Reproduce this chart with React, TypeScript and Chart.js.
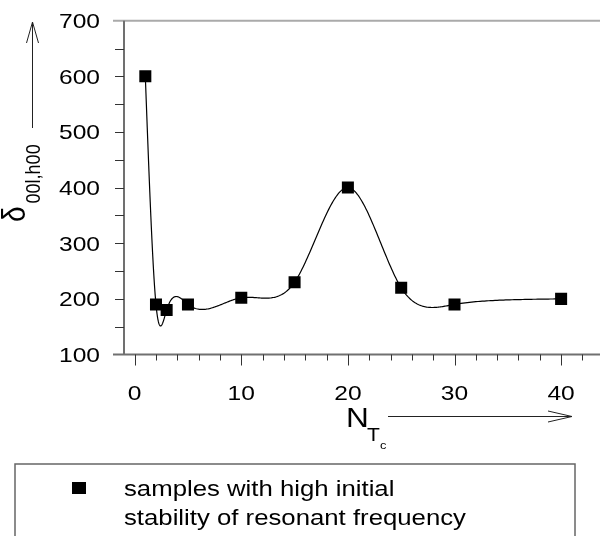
import React, { useEffect, useRef } from "react";
import { Chart, registerables } from "chart.js";
Chart.register(...registerables);

// ---- data ----
const nValues = [1, 2, 3, 5, 10, 15, 20, 25, 30, 40];
const deltaValues = [600, 190, 180, 190, 202, 230, 400, 220, 190, 200];
const xTickLabels = [0, 10, 20, 30, 40];
const yTickLabels = [100, 200, 300, 400, 500, 600, 700];
const legendLines = ["samples with high initial", "stability of resonant frequency"];

const FONT = '"Liberation Sans", Arial, sans-serif';
const SX = 1.17;
const TENSION = 0.35;

function solveTri(a: number[], b: number[], c: number[], d: number[]) {
  const n = b.length;
  const cp = new Array(n).fill(0), dp = new Array(n).fill(0);
  cp[0] = c[0] / b[0];
  dp[0] = d[0] / b[0];
  for (let i = 1; i < n; i++) {
    const m = b[i] - a[i] * cp[i - 1];
    cp[i] = c[i] / m;
    dp[i] = (d[i] - a[i] * dp[i - 1]) / m;
  }
  const z = new Array(n).fill(0);
  z[n - 1] = dp[n - 1];
  for (let i = n - 2; i >= 0; i--) z[i] = dp[i] - cp[i] * z[i + 1];
  return z;
}

// spline under tension through the data (natural end conditions)
function tensionZ(xs: number[], ys: number[], s: number) {
  const n = xs.length;
  const a = new Array(n).fill(0), b = new Array(n).fill(1), c = new Array(n).fill(0), d = new Array(n).fill(0);
  const al: number[] = [], be: number[] = [], ga: number[] = [];
  for (let i = 0; i < n - 1; i++) {
    const h = xs[i + 1] - xs[i];
    al.push(1 / h - s / Math.sinh(s * h));
    be.push((s * Math.cosh(s * h)) / Math.sinh(s * h) - 1 / h);
    ga.push((ys[i + 1] - ys[i]) / h);
  }
  for (let i = 1; i < n - 1; i++) {
    a[i] = al[i - 1];
    b[i] = be[i - 1] + be[i];
    c[i] = al[i];
    d[i] = s * s * (ga[i] - ga[i - 1]);
  }
  return solveTri(a, b, c, d);
}

function tensionEval(xs: number[], ys: number[], z: number[], s: number, i: number, x: number) {
  const x0 = xs[i], x1 = xs[i + 1], h = x1 - x0;
  const sh = Math.sinh(s * h);
  return (
    (z[i] * Math.sinh(s * (x1 - x)) + z[i + 1] * Math.sinh(s * (x - x0))) / (s * s * sh) +
    ((ys[i] - z[i] / (s * s)) * (x1 - x)) / h +
    ((ys[i + 1] - z[i + 1] / (s * s)) * (x - x0)) / h
  );
}

function stretchedText(ctx: CanvasRenderingContext2D, text: string, x: number, y: number, sx = SX) {
  ctx.save();
  ctx.translate(x, y);
  ctx.scale(sx, 1);
  ctx.fillText(text, 0, 0);
  ctx.restore();
}

const decorPlugin = {
  id: "decor",
  beforeDatasetsDraw(chart: any) {
    const ctx = chart.ctx as CanvasRenderingContext2D;
    const xs = chart.scales.x;
    const ys = chart.scales.y;
    const area = chart.chartArea;
    ctx.save();

    // frame
    ctx.strokeStyle = "#aaaaaa";
    ctx.lineWidth = 2;
    ctx.beginPath();
    ctx.moveTo(113, area.top);
    ctx.lineTo(600, area.top);
    ctx.stroke();

    ctx.strokeStyle = "#707070";
    ctx.lineWidth = 2;
    ctx.beginPath();
    ctx.moveTo(area.left, area.top);
    ctx.lineTo(area.left, area.bottom);
    ctx.moveTo(113, area.bottom);
    ctx.lineTo(600, area.bottom);
    ctx.stroke();

    // ticks
    ctx.strokeStyle = "#333333";
    ctx.lineWidth = 1;
    ctx.beginPath();
    for (let v = 150; v < 700; v += 50) {
      const py = Math.round(ys.getPixelForValue(v)) + 0.5;
      ctx.moveTo(115, py);
      ctx.lineTo(area.left, py);
    }
    for (let v = 0; v <= 42; v += 2) {
      const px = Math.round(xs.getPixelForValue(v)) + 0.5;
      ctx.moveTo(px, area.bottom);
      ctx.lineTo(px, area.bottom + (v % 10 === 0 ? 11 : 6));
    }
    ctx.stroke();

    // tick labels
    ctx.fillStyle = "#000";
    ctx.font = `21px ${FONT}`;
    ctx.textBaseline = "alphabetic";
    ctx.textAlign = "right";
    for (const v of yTickLabels) stretchedText(ctx, String(v), 100, ys.getPixelForValue(v) + 7.5);
    ctx.textAlign = "center";
    for (const v of xTickLabels) stretchedText(ctx, String(v), xs.getPixelForValue(v), 400);

    // smooth curve through the data points
    const z = tensionZ(nValues, deltaValues, TENSION);
    ctx.strokeStyle = "#000";
    ctx.lineWidth = 1.2;
    ctx.beginPath();
    for (let i = 0; i < nValues.length - 1; i++) {
      for (let k = 0; k <= 50; k++) {
        const x = nValues[i] + ((nValues[i + 1] - nValues[i]) * k) / 50;
        const px = xs.getPixelForValue(x);
        const py = ys.getPixelForValue(tensionEval(nValues, deltaValues, z, TENSION, i, x));
        if (i === 0 && k === 0) ctx.moveTo(px, py);
        else ctx.lineTo(px, py);
      }
    }
    ctx.stroke();
    ctx.restore();
  },
  afterDraw(chart: any) {
    const ctx = chart.ctx as CanvasRenderingContext2D;
    ctx.save();
    ctx.fillStyle = "#000";
    ctx.strokeStyle = "#222";
    ctx.lineWidth = 1;

    // y title
    ctx.save();
    ctx.translate(25, 222);
    ctx.rotate(-Math.PI / 2);
    ctx.scale(1, SX);
    ctx.textAlign = "left";
    ctx.textBaseline = "alphabetic";
    ctx.font = `28px ${FONT}`;
    ctx.fillText("δ", 0, 0);
    const dW = ctx.measureText("δ").width;
    ctx.font = `18px ${FONT}`;
    ctx.fillText("00l,h00", dW + 3, 13);
    ctx.restore();

    ctx.beginPath();
    ctx.moveTo(32.5, 128);
    ctx.lineTo(32.5, 22);
    ctx.moveTo(26.5, 43);
    ctx.lineTo(32.5, 22);
    ctx.lineTo(38.5, 43);
    ctx.stroke();

    // x title
    ctx.textAlign = "left";
    ctx.font = `27px ${FONT}`;
    stretchedText(ctx, "N", 346, 427);
    ctx.font = `18px ${FONT}`;
    stretchedText(ctx, "T", 367, 441);
    ctx.font = `11px ${FONT}`;
    stretchedText(ctx, "c", 380, 449);

    ctx.beginPath();
    ctx.moveTo(388, 416.5);
    ctx.lineTo(572, 416.5);
    ctx.moveTo(548, 411);
    ctx.lineTo(572, 416.5);
    ctx.lineTo(548, 422);
    ctx.stroke();

    // legend
    ctx.strokeStyle = "#666";
    ctx.lineWidth = 1.5;
    ctx.strokeRect(15, 464, 560, 100);
    ctx.fillStyle = "#000";
    ctx.fillRect(72, 482, 14, 12);
    ctx.font = `22px ${FONT}`;
    stretchedText(ctx, legendLines[0], 124, 496);
    stretchedText(ctx, legendLines[1], 124, 525);
    ctx.restore();
  },
};

export default function App() {
  const ref = useRef<HTMLCanvasElement | null>(null);
  useEffect(() => {
    if (!ref.current) return;
    const chart = new Chart(ref.current, {
      type: "line",
      data: {
        datasets: [
          {
            label: legendLines.join(" "),
            data: nValues.map((x, i) => ({ x, y: deltaValues[i] })),
            showLine: false,
            pointStyle: "rect",
            pointRadius: 8.5,
            pointHoverRadius: 8.5,
            pointBorderWidth: 0,
            pointBackgroundColor: "#000",
            pointBorderColor: "#000",
            borderColor: "#000",
            backgroundColor: "#000",
          },
        ],
      },
      options: {
        animation: false,
        responsive: false,
        maintainAspectRatio: false,
        devicePixelRatio: 1,
        layout: { padding: { left: 124, top: 20.7, right: 0, bottom: 181.5 } },
        plugins: { legend: { display: false }, tooltip: { enabled: false } },
        events: [],
        scales: {
          x: { type: "linear", display: false, min: -1, max: 42.85 },
          y: { type: "linear", display: false, min: 100, max: 700 },
        },
      },
      plugins: [decorPlugin],
    });
    return () => chart.destroy();
  }, []);
  return (
    <div style={{ position: "fixed", left: 0, top: 0, width: 600, height: 536, background: "#fff" }}>
      <canvas ref={ref} width={600} height={536} style={{ display: "block", width: 600, height: 536 }} />
    </div>
  );
}
